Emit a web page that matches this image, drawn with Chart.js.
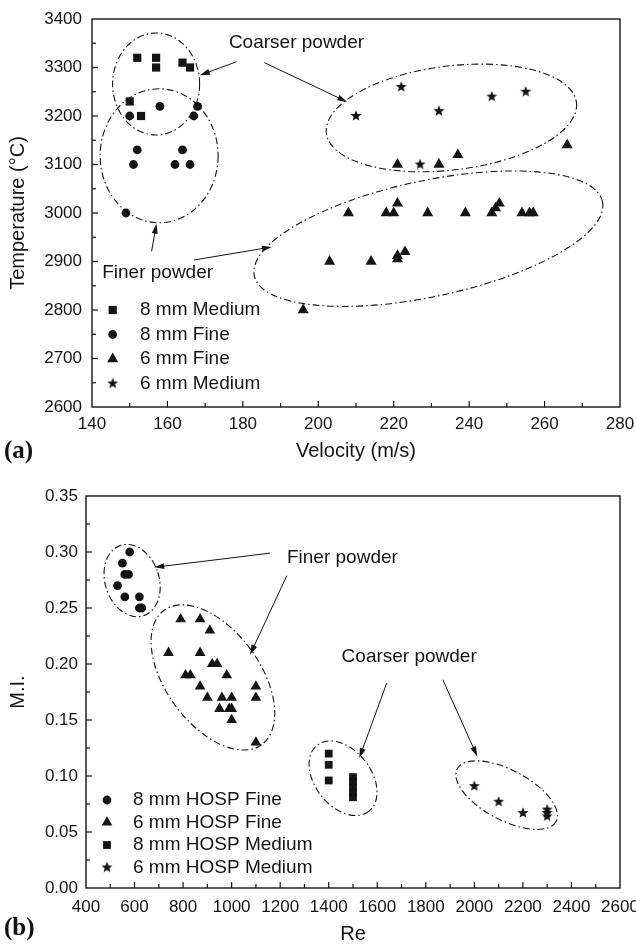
<!DOCTYPE html>
<html lang="en">
<head>
<meta charset="UTF-8" />
<title>Temperature and M.I. scatter</title>
<script src="https://cdn.jsdelivr.net/npm/chart.js"></script>
<style>
  body { margin: 0; background: #fff; }
  .wrap { position: relative; width: 636px; height: 948px; overflow: hidden; }
  canvas { position: absolute; left: 0; }
  #chartA { top: 0; }
  #chartB { top: 470px; }
  .tag {
    position: absolute; left: 4px;
    font-family: 'Liberation Serif', 'DejaVu Serif', serif;
    font-weight: bold; font-size: 25px; color: #111; line-height: 28px;
  }
</style>
</head>
<body>
<div class="wrap">
  <canvas id="chartA" width="636" height="470"></canvas>
  <canvas id="chartB" width="636" height="478"></canvas>
  <div class="tag" style="top:436px">(a)</div>
  <div class="tag" style="top:913px">(b)</div>
</div>
<script>
// ---- panel (a): temperature vs velocity ----
const labelsA = ['8 mm Medium', '8 mm Fine', '6 mm Fine', '6 mm Medium'];
const med8Vel  = [152, 157, 157, 164, 166, 150, 153];
const med8Temp = [3320, 3320, 3300, 3310, 3300, 3230, 3200];
const fine8Vel  = [158, 168, 150, 167, 152, 164, 151, 162, 166, 149];
const fine8Temp = [3220, 3220, 3200, 3200, 3130, 3130, 3100, 3100, 3100, 3000];
const fine6Vel  = [221, 232, 237, 266, 221, 208, 218, 220, 229, 239, 246, 248, 247, 254, 256, 257, 203, 214, 221, 221, 223, 196];
const fine6Temp = [3100, 3100, 3120, 3140, 3020, 3000, 3000, 3000, 3000, 3000, 3000, 3020, 3010, 3000, 3000, 3000, 2900, 2900, 2905, 2912, 2920, 2800];
const med6Vel  = [210, 222, 232, 246, 255, 227];
const med6Temp = [3200, 3260, 3210, 3240, 3250, 3100];
const velAxis  = [140, 280, 20, 10];     // min, max, step, minor step
const tempAxis = [2600, 3400, 100, 50];

// ---- panel (b): M.I. vs Re ----
const labelsB = ['8 mm HOSP Fine', '6 mm HOSP Fine', '8 mm HOSP Medium', '6 mm HOSP Medium'];
const hFine8Re = [580, 550, 560, 575, 530, 560, 620, 620, 630];
const hFine8MI = [0.30, 0.29, 0.28, 0.28, 0.27, 0.26, 0.26, 0.25, 0.25];
const hFine6Re = [790, 870, 910, 740, 870, 920, 940, 810, 830, 980, 870, 1100, 900, 960, 1000, 1100, 950, 990, 1000, 1000, 1100];
const hFine6MI = [0.24, 0.24, 0.23, 0.21, 0.21, 0.20, 0.20, 0.19, 0.19, 0.19, 0.18, 0.18, 0.17, 0.17, 0.17, 0.17, 0.16, 0.16, 0.16, 0.15, 0.13];
const hMed8Re = [1400, 1400, 1400, 1500, 1500, 1500, 1500, 1500];
const hMed8MI = [0.12, 0.11, 0.096, 0.099, 0.095, 0.09, 0.085, 0.081];
const hMed6Re = [2000, 2100, 2200, 2300, 2300, 2300];
const hMed6MI = [0.091, 0.077, 0.067, 0.070, 0.067, 0.064];
const reAxis = [400, 2600, 200, 100];
const miAxis = [0, 0.35, 0.05, 0.025];

const INK = '#141414';
const FONT = "'Liberation Sans', Arial, sans-serif";

function starImage(r) {
  const c = document.createElement('canvas');
  const s = Math.ceil(r * 2) + 2;
  c.width = c.height = s;
  const g = c.getContext('2d');
  g.fillStyle = INK;
  g.beginPath();
  for (let i = 0; i < 10; i++) {
    const rad = i % 2 ? r * 0.42 : r;
    const ang = -Math.PI / 2 + i * Math.PI / 5;
    const px = s / 2 + rad * Math.cos(ang), py = s / 2 + rad * Math.sin(ang);
    if (i) g.lineTo(px, py); else g.moveTo(px, py);
  }
  g.closePath();
  g.fill();
  return c;
}
const star = starImage(5.8);

function ds(label, xs, ys, style, radius) {
  return {
    label, pointStyle: style, pointRadius: radius, pointHoverRadius: radius,
    backgroundColor: INK, borderColor: INK, borderWidth: 0, showLine: false,
    data: xs.map((x, i) => ({ x, y: ys[i] }))
  };
}

function markPoint(ctx, style, radius, x, y) {
  if (window.Chart && Chart.helpers && Chart.helpers.drawPoint) {
    Chart.helpers.drawPoint(ctx, { pointStyle: style, radius, rotation: 0, borderWidth: 0 }, x, y);
  }
}

// frame, inward ticks, ellipses, arrows, notes, in-plot legend
const decor = {
  id: 'decor',
  afterDatasetsDraw(chart, args, o) {
    const { ctx, chartArea: a, scales: { x, y } } = chart;
    ctx.save();
    ctx.strokeStyle = INK;
    ctx.fillStyle = INK;

    ctx.lineWidth = 1.4;
    ctx.strokeRect(a.left, a.top, a.right - a.left, a.bottom - a.top);

    ctx.lineWidth = 1.2;
    const tickRun = (sc, rng, horiz) => {
      const n = Math.round((rng[1] - rng[0]) / rng[3]);
      for (let k = 1; k < n; k++) {
        const v = rng[0] + k * rng[3];
        const p = sc.getPixelForValue(v);
        const len = k % Math.round(rng[2] / rng[3]) === 0 ? 6 : 4;
        ctx.beginPath();
        if (horiz) { ctx.moveTo(p, a.bottom); ctx.lineTo(p, a.bottom - len); }
        else { ctx.moveTo(a.left, p); ctx.lineTo(a.left + len, p); }
        ctx.stroke();
      }
    };
    tickRun(x, o.xr, true);
    tickRun(y, o.yr, false);

    ctx.lineWidth = 1.1;
    ctx.setLineDash([7, 3, 1.5, 3]);
    o.ellipses.forEach(e => {
      ctx.beginPath();
      ctx.ellipse(x.getPixelForValue(e.x), y.getPixelForValue(e.y), e.rx, e.ry, e.rot * Math.PI / 180, 0, Math.PI * 2);
      ctx.stroke();
    });
    ctx.setLineDash([]);

    ctx.lineWidth = 1;
    o.arrows.forEach(r => {
      const x0 = x.getPixelForValue(r.x0), y0 = y.getPixelForValue(r.y0);
      const x1 = x.getPixelForValue(r.x1), y1 = y.getPixelForValue(r.y1);
      const ang = Math.atan2(y1 - y0, x1 - x0);
      ctx.beginPath();
      ctx.moveTo(x0, y0);
      ctx.lineTo(x1 - 6 * Math.cos(ang), y1 - 6 * Math.sin(ang));
      ctx.stroke();
      ctx.beginPath();
      ctx.moveTo(x1, y1);
      ctx.lineTo(x1 - 10 * Math.cos(ang) + 3 * Math.sin(ang), y1 - 10 * Math.sin(ang) - 3 * Math.cos(ang));
      ctx.lineTo(x1 - 10 * Math.cos(ang) - 3 * Math.sin(ang), y1 - 10 * Math.sin(ang) + 3 * Math.cos(ang));
      ctx.closePath();
      ctx.fill();
    });

    ctx.font = '19px ' + FONT;
    ctx.textAlign = 'left';
    ctx.textBaseline = 'middle';
    o.notes.forEach(t => ctx.fillText(t.text, x.getPixelForValue(t.x), y.getPixelForValue(t.y)));

    const L = o.legend;
    chart.data.datasets.forEach((d, i) => {
      const yy = a.bottom - L.bottom + i * L.step;
      markPoint(ctx, d.pointStyle, d.pointRadius, a.left + L.mark, yy);
      ctx.fillText(d.label, a.left + L.text, yy);
    });
    ctx.restore();
  }
};

function axis(rng, fmt, pad, title, titlePad, fit) {
  return {
    type: 'linear', min: rng[0], max: rng[1],
    grid: { display: false, drawTicks: false },
    border: { display: false },
    ticks: { stepSize: rng[2], padding: pad, color: INK, font: { family: FONT, size: 17 }, callback: fmt },
    title: { display: true, text: title, color: INK, font: { family: FONT, size: 20 }, padding: titlePad },
    afterFit: fit
  };
}

function build(id, datasets, xAx, yAx, pad, decorOpts) {
  new Chart(document.getElementById(id), {
    type: 'scatter',
    data: { datasets },
    options: {
      responsive: false, animation: false, events: [],
      layout: { padding: pad },
      plugins: { legend: { display: false }, tooltip: { enabled: false }, decor: decorOpts },
      scales: { x: xAx, y: yAx }
    },
    plugins: [decor]
  });
}

build('chartA', [
  ds(labelsA[0], med8Vel, med8Temp, 'rect', 5.8),
  ds(labelsA[1], fine8Vel, fine8Temp, 'circle', 4.4),
  ds(labelsA[2], fine6Vel, fine6Temp, 'triangle', 6.4),
  ds(labelsA[3], med6Vel, med6Temp, star, 5.8)
],
  axis(velAxis, v => String(v), 7, 'Velocity (m/s)', { top: 0, bottom: 7 },
    s => { s.height = 63; s.paddingLeft = 0; s.paddingRight = 0; }),
  axis(tempAxis, v => String(v), 10, 'Temperature (\u00B0C)', { top: 6, bottom: 0 },
    s => { s.width = 92; s.paddingTop = 0; s.paddingBottom = 0; }),
  { top: 19, right: 16, left: 0, bottom: 0 },
  {
    xr: velAxis, yr: tempAxis,
    ellipses: [
      { x: 157, y: 3266, rx: 43.5, ry: 51, rot: 0 },
      { x: 157.8, y: 3118, rx: 59, ry: 67, rot: 0 },
      { x: 235.3, y: 3196, rx: 126, ry: 52, rot: -7 },
      { x: 229.2, y: 2947, rx: 178, ry: 58, rot: -12 }
    ],
    arrows: [
      { x0: 178.4, y0: 3312, x1: 168.6, y1: 3284 },
      { x0: 185.7, y0: 3310, x1: 207.7, y1: 3229 },
      { x0: 155.8, y0: 2921, x1: 157.1, y1: 2978 },
      { x0: 167, y0: 2903, x1: 187.7, y1: 2930 }
    ],
    notes: [
      { x: 176.3, y: 3350, text: 'Coarser powder' },
      { x: 142.7, y: 2877, text: 'Finer powder' }
    ],
    legend: { mark: 20.7, text: 48, bottom: 97, step: 24.5 }
  });

build('chartB', [
  ds(labelsB[0], hFine8Re, hFine8MI, 'circle', 4.4),
  ds(labelsB[1], hFine6Re, hFine6MI, 'triangle', 6.2),
  ds(labelsB[2], hMed8Re, hMed8MI, 'rect', 5.5),
  ds(labelsB[3], hMed6Re, hMed6MI, star, 5.8)
],
  axis(reAxis, v => String(v), 9, 'Re', { top: 0, bottom: 2 },
    s => { s.height = 60; s.paddingLeft = 0; s.paddingRight = 0; }),
  axis(miAxis, v => v.toFixed(2), 8, 'M.I.', { top: 6, bottom: 0 },
    s => { s.width = 86; s.paddingTop = 0; s.paddingBottom = 0; }),
  { top: 26, right: 16, left: 0, bottom: 0 },
  {
    xr: reAxis, yr: miAxis,
    ellipses: [
      { x: 590, y: 0.2745, rx: 27, ry: 37, rot: -18 },
      { x: 923, y: 0.188, rx: 83, ry: 47, rot: 54 },
      { x: 1459, y: 0.098, rx: 42, ry: 28, rot: 52 },
      { x: 2133, y: 0.0829, rx: 56, ry: 25, rot: 28 }
    ],
    arrows: [
      { x0: 1158, y0: 0.299, x1: 681, y1: 0.2863 },
      { x0: 1227, y0: 0.2788, x1: 1076, y1: 0.2083 },
      { x0: 1639, y0: 0.183, x1: 1526, y1: 0.116 },
      { x0: 1870, y0: 0.186, x1: 2012, y1: 0.1175 }
    ],
    notes: [
      { x: 1228, y: 0.295, text: 'Finer powder' },
      { x: 1453, y: 0.2068, text: 'Coarser powder' }
    ],
    legend: { mark: 21, text: 47, bottom: 88, step: 22.5 }
  });
</script>
</body>
</html>
